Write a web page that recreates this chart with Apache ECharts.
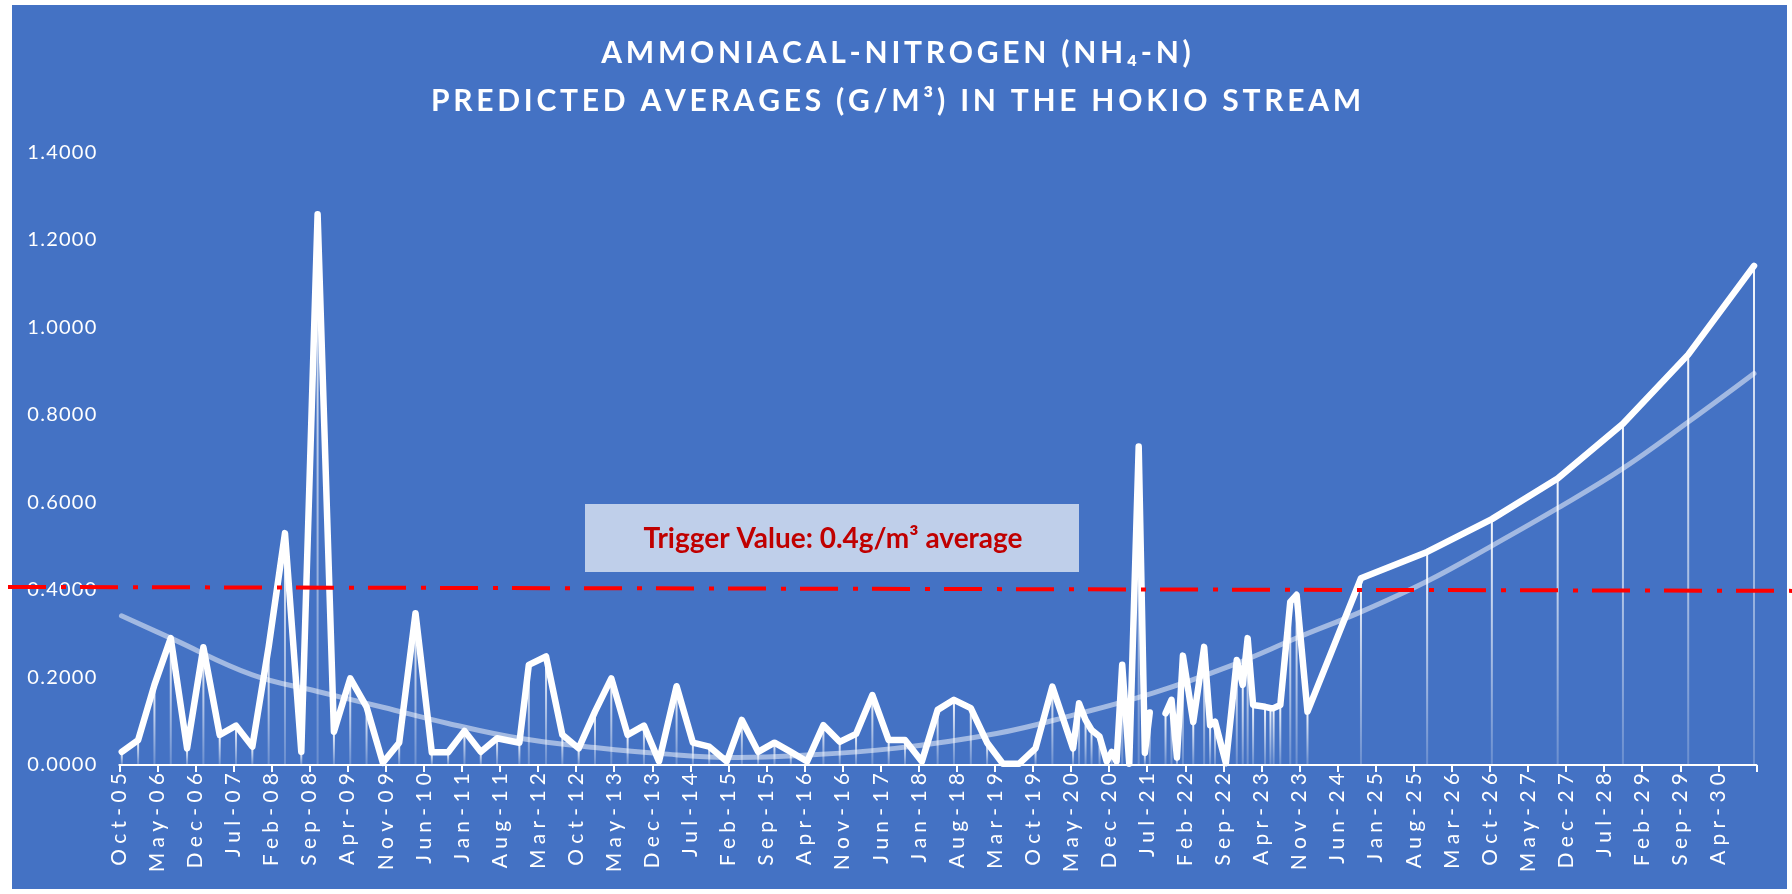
<!DOCTYPE html>
<html><head><meta charset="utf-8">
<script src="https://cdn.jsdelivr.net/npm/echarts@6/dist/echarts.min.js"></script>
<style>html,body{margin:0;padding:0;background:#fff}#c{width:1792px;height:894px}</style>
</head><body><div id="c"></div>
<script>
const titleLines = ['AMMONIACAL-NITROGEN (NH₄-N)', 'PREDICTED AVERAGES (G/M³) IN THE HOKIO STREAM'];
const tickLabels = ['Oct-05','May-06','Dec-06','Jul-07','Feb-08','Sep-08','Apr-09','Nov-09','Jun-10','Jan-11','Aug-11','Mar-12','Oct-12','May-13','Dec-13','Jul-14','Feb-15','Sep-15','Apr-16','Nov-16','Jun-17','Jan-18','Aug-18','Mar-19','Oct-19','May-20','Dec-20','Jul-21','Feb-22','Sep-22','Apr-23','Nov-23','Jun-24','Jan-25','Aug-25','Mar-26','Oct-26','May-27','Dec-27','Jul-28','Feb-29','Sep-29','Apr-30'];
const yTicks = [0, 0.2, 0.4, 0.6, 0.8, 1.0, 1.2, 1.4];

const dates = ['2005-10-15','2006-01-15','2006-04-15','2006-07-15','2006-10-15','2007-01-15','2007-04-15','2007-07-15','2007-10-15','2008-01-15',
'2008-04-15','2008-07-15','2008-10-15','2009-01-15','2009-04-15','2009-07-15','2009-10-15','2010-01-15','2010-04-15','2010-07-15',
'2010-10-15','2011-01-15','2011-04-15','2011-07-15','2011-11-18','2012-01-10','2012-04-15','2012-07-15','2012-10-15','2013-01-15',
'2013-04-15','2013-07-15','2013-10-15','2014-01-08','2014-04-15','2014-07-15','2014-10-15','2015-01-22','2015-04-15','2015-07-15',
'2015-10-15','2016-01-15','2016-04-15','2016-07-15','2016-10-15','2017-01-15','2017-04-15','2017-07-15','2017-10-15','2018-01-18',
'2018-04-15','2018-07-15','2018-10-18','2019-01-18','2019-04-15','2019-07-15','2019-10-15','2020-01-18','2020-05-12','2020-06-15',
'2020-07-21','2020-08-24','2020-10-08','2020-11-18','2020-12-15','2021-01-12','2021-02-13','2021-03-22','2021-05-14','2021-06-18',
'2021-07-15','2021-08-15','2021-10-12','2021-11-15','2021-12-15','2022-01-18','2022-03-15','2022-05-15','2022-06-18','2022-07-15',
'2022-09-15','2022-11-15','2022-12-18','2023-01-15','2023-02-15','2023-04-21','2023-05-21','2023-06-08','2023-07-15','2023-09-10',
'2023-10-15','2023-12-15','2024-10-10','2025-10-15','2026-10-12','2027-10-15','2028-10-15','2029-10-15','2030-10-18'];
const values = [0.030,0.057,0.183,0.290,0.038,0.269,0.069,0.090,0.042,0.270,
0.530,0.030,1.259,0.076,0.198,0.133,0.005,0.051,0.347,0.029,
0.029,0.078,0.030,0.061,0.051,0.229,0.248,0.069,0.038,0.122,
0.198,0.069,0.090,0.008,0.180,0.051,0.042,0.008,0.103,0.030,
0.051,0.030,0.008,0.091,0.053,0.071,0.160,0.057,0.057,0.008,
0.126,0.149,0.130,0.051,0.003,0.003,0.038,0.179,0.038,0.141,
0.103,0.080,0.065,0.008,0.030,0.008,0.229,0.003,0.728,0.028,
0.120,null,0.118,0.149,0.017,0.250,0.098,0.270,0.091,0.099,
0.004,0.240,0.183,0.290,0.137,0.133,0.130,0.130,0.137,0.373,
0.389,0.122,0.427,0.487,0.562,0.655,0.780,0.938,1.141];

const trendDates = ['2005-10-13','2006-07-15','2007-10-15','2008-10-15','2009-10-15','2010-10-15','2011-11-18','2013-01-15','2014-01-15','2015-03-21',
'2016-02-12','2017-08-18','2019-03-10','2020-05-12','2021-08-06','2022-10-06','2023-11-01','2024-10-10','2025-10-15','2026-10-12',
'2027-10-15','2028-10-15','2029-10-15','2030-10-18'];
const trendValues = [0.341,0.290,0.206,0.168,0.132,0.095,0.061,0.040,0.026,0.017,
0.021,0.038,0.072,0.114,0.165,0.226,0.293,0.350,0.420,0.501,
0.587,0.678,0.784,0.895];

const triggerText = 'Trigger Value: 0.4g/m³ average';
const triggerEnds = [0.407, 0.398];

function monthPos(d){
  const p = d.split('-').map(Number);
  return (p[0]-2005)*12 + (p[1]-10) + (p[2]-1)/30.4;
}
function spaced(s, sep){ return Array.from(s).join(sep); }

const mainData = dates.map((d,i)=>[monthPos(d), values[i] === null ? '-' : values[i]]);
const dropData = dates.map((d,i)=>[monthPos(d), values[i]]).filter(p=>p[1]!==null);
const trendData = trendDates.map((d,i)=>[monthPos(d), trendValues[i]]);

const FONT = 'Lato, "Noto Sans", sans-serif';
const chart = echarts.init(document.getElementById('c'));
const option = {
  backgroundColor: '#ffffff',
  animation: false,
  title: {
    text: spaced(titleLines[0], '\u2009') + '\n' + spaced(titleLines[1], '\u2009'),
    left: 'center', top: 24,
    textStyle: { color:'#ffffff', fontSize: 30, fontWeight: 'bold', fontFamily: FONT, lineHeight: 48 }
  },
  grid: { left: 119.3, right: 35.6, top: 152.5, bottom: 129 },
  xAxis: {
    type: 'value', min: 0, max: 301, interval: 7,
    axisLine: { show: true, lineStyle: { color:'#ffffff', width: 2 } },
    axisTick: { show: true, length: 7, lineStyle: { color:'#ffffff', width: 2 } },
    splitLine: { show: false },
    axisLabel: {
      rotate: 90, color:'#ffffff', fontSize: 21, fontFamily: FONT, margin: 8,
      formatter: v => { const i = Math.round(v/7); return tickLabels[i] ? spaced(tickLabels[i], '\u2009\u2009') : ''; }
    }
  },
  yAxis: {
    type: 'value', min: yTicks[0], max: yTicks[yTicks.length-1], interval: 0.2,
    axisLine: { show: false }, axisTick: { show: false }, splitLine: { show: false },
    axisLabel: { color:'#ffffff', fontSize: 20, fontFamily: FONT, margin: 23,
      formatter: v => spaced(v.toFixed(4), '\u200A') }
  },
  series: [
    { type: 'bar', name: 'drop', data: dropData, barWidth: 2, z: 1, silent: true,
      itemStyle: { color: new echarts.graphic.LinearGradient(0,0,0,1,[
        {offset:0, color:'rgba(255,255,255,0.95)'},{offset:1, color:'rgba(255,255,255,0.2)'}]) } },
    { type: 'line', name: 'trend', data: trendData, smooth: 0.4, showSymbol: false, z: 2,
      lineStyle: { color:'rgba(255,255,255,0.5)', width: 5, cap: 'round' } },
    { type: 'line', name: 'NH4-N', data: mainData, showSymbol: false, connectNulls: false, z: 3,
      lineStyle: { color:'#ffffff', width: 6.5, cap: 'round', join: 'round' } }
  ],
  graphic: [
    { id:'bg', type:'rect', z:-100, silent:true, shape:{x:12, y:5, width:1775, height:884}, style:{fill:'#4472C4'} },
    { id:'box', type:'rect', z:50, shape:{x:585, y:504, width:494, height:68}, style:{fill:'#BFCFEA'} },
    { id:'boxText', type:'text', z:51, x:833, y:539,
      style:{ text: triggerText, fill:'#C00000', font:'bold 28px ' + FONT, textAlign:'center', textVerticalAlign:'middle' } }
  ]
};
chart.setOption(option);
const yL = chart.convertToPixel({yAxisIndex:0}, triggerEnds[0]);
const yR = chart.convertToPixel({yAxisIndex:0}, triggerEnds[1]);
chart.setOption({ graphic: [
  { id:'trigger', type:'line', z:40, silent:true, shape:{x1:8, y1:yL, x2:1792, y2:yR},
    style:{ stroke:'#FF0000', lineWidth:4, lineDash:[38,15,5,14] } }
]});
</script></body></html>
